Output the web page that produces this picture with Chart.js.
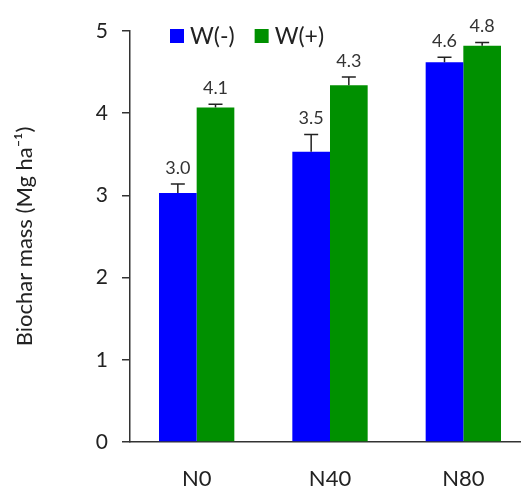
<!DOCTYPE html>
<html>
<head>
<meta charset="utf-8">
<script src="https://cdn.jsdelivr.net/npm/chart.js@4/dist/chart.umd.min.js"></script>
<style>
  html, body { margin: 0; padding: 0; background: #fff; overflow: hidden; }
  #wrap { position: absolute; left: 0; top: 0; width: 534px; height: 486px; }
</style>
</head>
<body>
<div id="wrap"><canvas id="myChart"></canvas></div>
<script>
var categories = ['N0', 'N40', 'N80'];
var seriesNames = ['W(-)', 'W(+)'];
var wMinus = [3.03, 3.53, 4.62];
var wPlus = [4.07, 4.34, 4.82];
var wMinusErr = [0.11, 0.21, 0.06];
var wPlusErr = [0.04, 0.10, 0.04];
var yTicks = [0, 1, 2, 3, 4, 5];

var FONT = 'Lato, "DejaVu Sans", sans-serif';
var errors = [wMinusErr, wPlusErr];

// error bars + value labels on top of each bar
var barExtras = {
    id: 'barExtras',
    afterDatasetsDraw: function(chart) {
        var c = chart.ctx;
        var y = chart.scales.y;
        c.save();
        chart.data.datasets.forEach(function(ds, di) {
            var meta = chart.getDatasetMeta(di);
            meta.data.forEach(function(bar, i) {
                var v = ds.data[i];
                var top = y.getPixelForValue(v + errors[di][i]);
                c.strokeStyle = '#222';
                c.lineWidth = 1.5;
                c.beginPath();
                c.moveTo(bar.x, bar.y);
                c.lineTo(bar.x, top);
                c.moveTo(bar.x - 7, top);
                c.lineTo(bar.x + 7, top);
                c.stroke();
                c.fillStyle = '#333';
                c.font = '18px ' + FONT;
                c.textAlign = 'center';
                c.textBaseline = 'bottom';
                c.fillText(v.toFixed(1), bar.x, top - 7);
            });
        });
        c.restore();
    }
};

// legend drawn inside the plot, top left
var innerLegend = {
    id: 'innerLegend',
    afterDraw: function(chart) {
        var c = chart.ctx;
        var x = chart.chartArea.left + 40;
        var yc = chart.chartArea.top + 5;
        c.save();
        c.font = '23px ' + FONT;
        c.textBaseline = 'middle';
        c.textAlign = 'left';
        chart.data.datasets.forEach(function(ds) {
            c.fillStyle = ds.backgroundColor;
            c.fillRect(x, yc - 7, 14, 14);
            c.fillStyle = '#222';
            c.fillText(ds.label, x + 20, yc + 1);
            x += 20 + c.measureText(ds.label).width + 20;
        });
        c.restore();
    }
};

var ctx = document.getElementById('myChart').getContext('2d');
var myChart = new Chart(ctx, {
    type: 'bar',
    data: {
        labels: categories,
        datasets: [{
            label: seriesNames[0],
            data: wMinus,
            backgroundColor: '#0000FF',
            borderWidth: 0,
            categoryPercentage: 0.565,
            barPercentage: 1.0
        }, {
            label: seriesNames[1],
            data: wPlus,
            backgroundColor: '#009000',
            borderWidth: 0,
            categoryPercentage: 0.565,
            barPercentage: 1.0
        }]
    },
    options: {
        responsive: true,
        maintainAspectRatio: false,
        animation: false,
        layout: {
            padding: { top: 31, right: 4, left: 0, bottom: 0 }
        },
        plugins: {
            legend: { display: false },
            tooltip: { enabled: false }
        },
        scales: {
            x: {
                grid: { display: false },
                border: { color: '#333', width: 1.5 },
                ticks: {
                    color: '#222',
                    font: { family: FONT, size: 22 },
                    padding: 16
                },
                afterFit: function(scale) { scale.height = 44; }
            },
            y: {
                min: 0,
                max: 5,
                afterBuildTicks: function(scale) {
                    scale.ticks = yTicks.map(function(v) { return { value: v }; });
                },
                grid: {
                    drawOnChartArea: false,
                    drawTicks: true,
                    tickLength: 8,
                    color: '#333',
                    lineWidth: 1.5
                },
                border: { color: '#333', width: 1.5 },
                ticks: {
                    color: '#222',
                    font: { family: FONT, size: 21 },
                    padding: 14
                },
                title: {
                    display: true,
                    text: 'Biochar mass (Mg ha\u207B\u00B9)',
                    color: '#222',
                    font: { family: FONT, size: 22 },
                    padding: { top: 12, bottom: 0 }
                },
                afterFit: function(scale) { scale.width = 130; }
            }
        }
    },
    plugins: [barExtras, innerLegend]
});
</script>
</body>
</html>
